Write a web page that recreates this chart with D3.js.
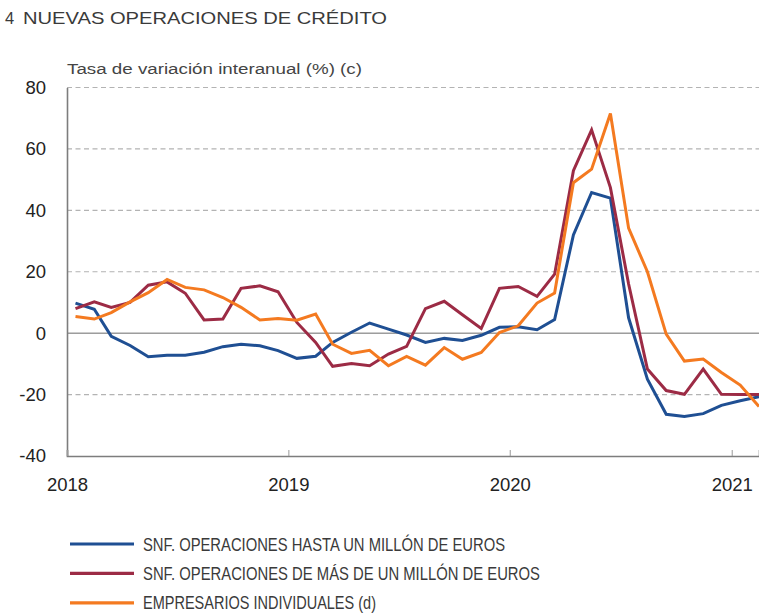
<!DOCTYPE html>
<html>
<head>
<meta charset="utf-8">
<script src="https://cdn.jsdelivr.net/npm/d3@7"></script>
<style>
  body { margin: 0; background: #fff; }
  svg { display: block; font-family: "Liberation Sans", Arial, sans-serif; }
</style>
</head>
<body>
<div id="chart"></div>
<script>
// monthly series, Jan 2018 - Feb 2021
var hasta = [9.8, 7.8, -1, -4, -7.7, -7.2, -7.2, -6.2, -4.4, -3.6, -4.1, -5.7,
  -8.2, -7.5, -3, 0.3, 3.3, 1.3, -0.6, -3, -1.7, -2.4, -0.7, 1.9,
  2.1, 1.1, 4.4, 32, 45.8, 44, 5, -15, -26.4, -27.1, -26.2, -23.5,
  -22, -20.7];
var masDe = [8, 10.2, 8.4, 10, 15.6, 16.7, 13, 4.3, 4.6, 14.6, 15.4, 13.5,
  3.5, -3, -10.8, -9.9, -10.6, -6.8, -4.3, 8, 10.4, 6, 1.5, 14.6,
  15.2, 12, 19.2, 52.9, 66.2, 47.4, 16, -11.7, -18.7, -19.9, -11.7, -19.9,
  -20, -20];
var empresarios = [5.4, 4.6, 6.7, 10.2, 13.2, 17.5, 14.9, 14.1, 11.6, 8.4, 4.3, 4.8,
  4.2, 6.2, -3.6, -6.6, -5.6, -10.6, -7.6, -10.4, -4.7, -8.5, -6.3, 0.2,
  2.4, 9.8, 13.1, 49, 53.4, 71.5, 34.2, 20, -0.3, -9.1, -8.4, -12.8,
  -16.9, -23.9];
var seriesNames = ["SNF. OPERACIONES HASTA UN MILLÓN DE EUROS",
  "SNF. OPERACIONES DE MÁS DE UN MILLÓN DE EUROS",
  "EMPRESARIOS INDIVIDUALES (d)"];
var colors = ["#1f4f93", "#9c2b45", "#f47a20"];
var yTicks = [-40, -20, 0, 20, 40, 60, 80];
var yearTicks = [2018, 2019, 2020, 2021];

var width = 759, height = 614;
var plot = { left: 67, right: 759, top: 87.5, bottom: 456 };

var months = d3.timeMonth.range(new Date(2018, 0, 1), new Date(2021, 2, 1));

var x = d3.scaleTime()
  .domain([new Date(2018, 0, 1), new Date(2021, 1, 15)])
  .range([plot.left, plot.right]);
var y = d3.scaleLinear()
  .domain([-40, 80])
  .range([plot.bottom, plot.top]);

var svg = d3.select("#chart").append("svg")
  .attr("width", width)
  .attr("height", height);

// title
svg.append("text")
  .attr("x", 5).attr("y", 24)
  .attr("font-size", 16.5).attr("fill", "#3a3a3a")
  .text("4");
svg.append("text")
  .attr("x", 23).attr("y", 24)
  .attr("font-size", 16.5).attr("fill", "#3a3a3a")
  .attr("textLength", 364).attr("lengthAdjust", "spacingAndGlyphs")
  .text("NUEVAS OPERACIONES DE CRÉDITO");
svg.append("text")
  .attr("x", 67).attr("y", 74)
  .attr("font-size", 15.5).attr("fill", "#444")
  .attr("textLength", 295).attr("lengthAdjust", "spacingAndGlyphs")
  .text("Tasa de variación interanual (%) (c)");

// grid
svg.append("g").selectAll("line")
  .data(yTicks.filter(function (d) { return d != 0 && d != -40; }))
  .enter().append("line")
  .attr("x1", plot.left).attr("x2", plot.right)
  .attr("y1", function (d) { return y(d); })
  .attr("y2", function (d) { return y(d); })
  .attr("stroke", "#b3b3b3")
  .attr("stroke-width", 1.2)
  .attr("stroke-dasharray", "5,3.5");

svg.append("line")
  .attr("x1", plot.left).attr("x2", plot.right)
  .attr("y1", y(0)).attr("y2", y(0))
  .attr("stroke", "#6b6b6b").attr("stroke-width", 1);

// axes
var yAxis = svg.append("g")
  .attr("transform", "translate(" + plot.left + ",0)")
  .call(d3.axisLeft(y).tickValues(yTicks)
    .tickFormat(function (d) { return String(d); })
    .tickSize(0).tickPadding(21));
yAxis.select(".domain").attr("stroke", "#7d7d7d").attr("stroke-width", 1.6);
yAxis.selectAll("text")
  .attr("font-size", 18.5).attr("fill", "#222")
  .attr("font-family", "Liberation Sans, Arial, sans-serif");

var xAxis = svg.append("g")
  .attr("transform", "translate(0," + plot.bottom + ")")
  .call(d3.axisBottom(x)
    .tickValues(yearTicks.map(function (yr) { return new Date(yr, 0, 1); }))
    .tickFormat(d3.timeFormat("%Y"))
    .tickSizeOuter(0)
    .tickSize(-6)
    .tickPadding(22));
xAxis.select(".domain").attr("stroke", "#7d7d7d").attr("stroke-width", 1.6);
xAxis.selectAll(".tick line").attr("stroke", "#9a9a9a").attr("stroke-width", 1);
xAxis.selectAll("text")
  .attr("font-size", 18.5).attr("fill", "#222")
  .attr("font-family", "Liberation Sans, Arial, sans-serif");

// lines
var line = d3.line()
  .x(function (d, i) { return x(d3.timeDay.offset(months[i], 14)); })
  .y(function (d) { return y(d); });

var allSeries = [hasta, masDe, empresarios];
svg.append("defs").append("clipPath").attr("id", "clip")
  .append("rect")
  .attr("x", plot.left).attr("y", 0)
  .attr("width", plot.right - plot.left).attr("height", height);

svg.append("g").attr("clip-path", "url(#clip)")
  .selectAll("path")
  .data(allSeries)
  .enter().append("path")
  .attr("d", line)
  .attr("fill", "none")
  .attr("stroke", function (d, i) { return colors[i]; })
  .attr("stroke-width", 3)
  .attr("stroke-linejoin", "miter");

// legend
var legendLengths = [362, 397, 233];
var legend = svg.append("g").selectAll("g")
  .data(seriesNames)
  .enter().append("g")
  .attr("transform", function (d, i) { return "translate(70," + (544 + i * 29.4) + ")"; });
legend.append("line")
  .attr("x1", 0).attr("x2", 64)
  .attr("stroke", function (d, i) { return colors[i]; })
  .attr("stroke-width", 3.2);
legend.append("text")
  .attr("x", 73).attr("y", 6.5)
  .attr("font-size", 17.5).attr("fill", "#3a3a3a")
  .attr("font-family", "'Liberation Sans Narrow', 'Liberation Sans', Arial, sans-serif")
  .attr("textLength", function (d, i) { return legendLengths[i]; })
  .attr("lengthAdjust", "spacingAndGlyphs")
  .text(function (d) { return d; });
</script>
</body>
</html>
